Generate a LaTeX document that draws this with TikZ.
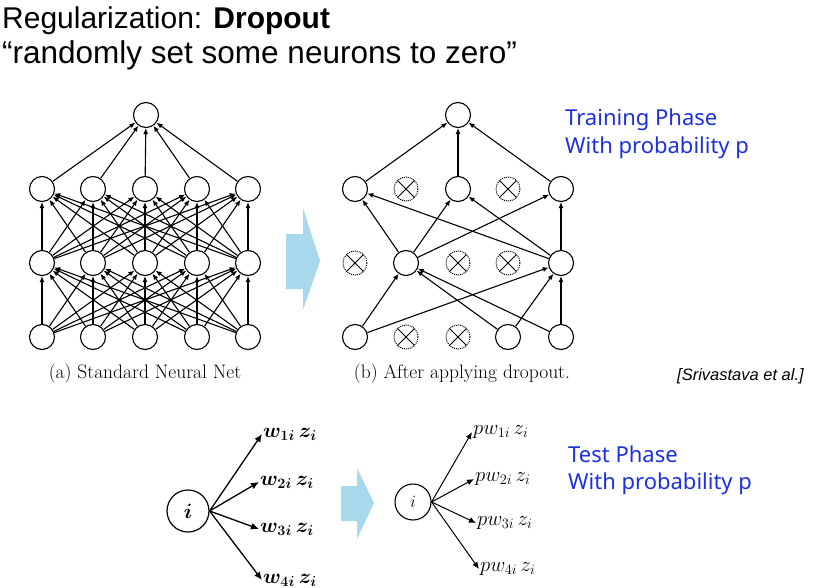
\documentclass[tikz,border=0pt]{standalone}
\usepackage{amsmath}
\usepackage{fontspec}
\newfontfamily\arial{Liberation Sans}
\newfontfamily\noto{Noto Sans}
\usetikzlibrary{arrows.meta}
\definecolor{arrowblue}{RGB}{168,216,236}
\definecolor{txtblue}{RGB}{28,48,225}
\tikzset{
  neuron/.style={circle, draw, line width=1.1pt, minimum size=25pt, inner sep=0pt},
  dropped/.style={circle, draw, densely dotted, line width=1pt, minimum size=24pt, inner sep=0pt,
    path picture={\draw[solid, line width=1pt] (path picture bounding box.north west) -- (path picture bounding box.south east)
      (path picture bounding box.north east) -- (path picture bounding box.south west);}},
  edge/.style={line width=1.1pt, -{Latex[length=6pt,width=5pt]}},
  title/.style={anchor=base west, inner sep=0pt, font=\arial\fontsize{30}{34}\selectfont},
  bluetxt/.style={anchor=base west, inner sep=0pt, text=txtblue, font=\noto\fontsize{22}{26}\selectfont},
  caption/.style={inner sep=0pt, font=\fontsize{19.5}{23}\selectfont},
  unit/.style={circle, draw, line width=1.2pt, inner sep=0pt},
  lab/.style={anchor=west, inner sep=1pt},
}
\begin{document}
\begin{tikzpicture}[x=1pt,y=-1pt]
\useasboundingbox (0,0) rectangle (813,588);
% titles
\node[title] (t1) at (2,29) {Regularization: \textbf{Dropout}};
\node[title, font=\arial\fontsize{31.5}{36}\selectfont] (t2) at (2,64) {“randomly set some neurons to zero”};
% network (a)
\node[neuron] (aT) at (146,115) {};
\foreach \i/\x in {1/42,2/93,3/145,4/197,5/248}{
  \node[neuron] (aH\i) at (\x,189) {};
  \node[neuron] (aM\i) at (\x,263) {};
  \node[neuron] (aI\i) at (\x,337) {};
}
\foreach \i in {1,...,5}{
  \draw[edge] (aH\i) -- (aT);
  \foreach \j in {1,...,5}{
    \draw[edge] (aM\j) -- (aH\i);
    \draw[edge] (aI\j) -- (aM\i);
  }
}
\node[caption] (capa) at (145,374) {(a) Standard Neural Net};
% big arrow
\fill[arrowblue] (286,234) -- (303,234) -- (303,208) -- (320,261) -- (303,310) -- (303,289) -- (286,289) -- cycle;
% network (b)
\node[neuron] (bT) at (458,115) {};
\node[neuron] (bH1) at (355,189) {};
\node[dropped] (bH2) at (406,189) {};
\node[neuron] (bH3) at (458,189) {};
\node[dropped] (bH4) at (508,189) {};
\node[neuron] (bH5) at (561,189) {};
\node[dropped] (bM1) at (355,263) {};
\node[neuron] (bM2) at (406,263) {};
\node[dropped] (bM3) at (458,263) {};
\node[dropped] (bM4) at (508,263) {};
\node[neuron] (bM5) at (561,263) {};
\node[neuron] (bI1) at (355,337) {};
\node[dropped] (bI2) at (406,337) {};
\node[dropped] (bI3) at (458,337) {};
\node[neuron] (bI4) at (508,337) {};
\node[neuron] (bI5) at (561,337) {};
\foreach \a/\b in {bH1/bT,bH3/bT,bH5/bT,
  bM2/bH1,bM2/bH3,bM2/bH5,bM5/bH1,bM5/bH3,bM5/bH5,
  bI1/bM2,bI4/bM2,bI5/bM2,bI1/bM5,bI4/bM5,bI5/bM5}
  \draw[edge] (\a) -- (\b);
\node[caption] (capb) at (462,374) {(b) After applying dropout.};
% texts right
\node[bluetxt] (tr1) at (565,126) {Training Phase};
\node[bluetxt] (tr2) at (565,154) {With probability p};
\node[anchor=base west, inner sep=0pt, font=\arial\itshape\fontsize{16.5}{19}\selectfont] (ref) at (677,380) {[Srivastava et al.]};
% test phase left
\node[unit, minimum size=42pt, font=\fontsize{20}{24}\selectfont] (iL) at (188,511) {$\boldsymbol{i}$};
\node[lab, font=\fontsize{22.5}{26}\selectfont] (w1) at (262,434) {$\boldsymbol{w_{1i}\,z_i}$};
\node[lab, font=\fontsize{22.5}{26}\selectfont] (w2) at (259,482) {$\boldsymbol{w_{2i}\,z_i}$};
\node[lab, font=\fontsize{22.5}{26}\selectfont] (w3) at (259,529) {$\boldsymbol{w_{3i}\,z_i}$};
\node[lab, font=\fontsize{22.5}{26}\selectfont] (w4) at (262,580) {$\boldsymbol{w_{4i}\,z_i}$};
\foreach \t in {w1,w2,w3,w4}
  \draw[edge, line width=1.3pt, -{Latex[length=8pt,width=7pt]}] (iL.east) -- (\t.west);
% small arrow
\fill[arrowblue] (341,486) -- (357,486) -- (357,468) -- (374,503) -- (357,539) -- (357,521) -- (341,521) -- cycle;
% test phase right
\node[unit, line width=1.1pt, minimum size=36pt, font=\fontsize{19}{23}\selectfont] (iR) at (413,502) {$i$};
\node[lab, font=\fontsize{20}{24}\selectfont] (p1) at (472,432) {$pw_{1i}\,z_i$};
\node[lab, font=\fontsize{20}{24}\selectfont] (p2) at (474,479) {$pw_{2i}\,z_i$};
\node[lab, font=\fontsize{20}{24}\selectfont] (p3) at (476,523) {$pw_{3i}\,z_i$};
\node[lab, font=\fontsize{20}{24}\selectfont] (p4) at (479,569) {$pw_{4i}\,z_i$};
\foreach \t in {p1,p2,p3,p4}
  \draw[edge, line width=1pt, -{Latex[length=7pt,width=6pt]}] (iR.east) -- (\t.west);
\node[bluetxt] (te1) at (568,462) {Test Phase};
\node[bluetxt] (te2) at (568,489) {With probability p};
\end{tikzpicture}
\end{document}
